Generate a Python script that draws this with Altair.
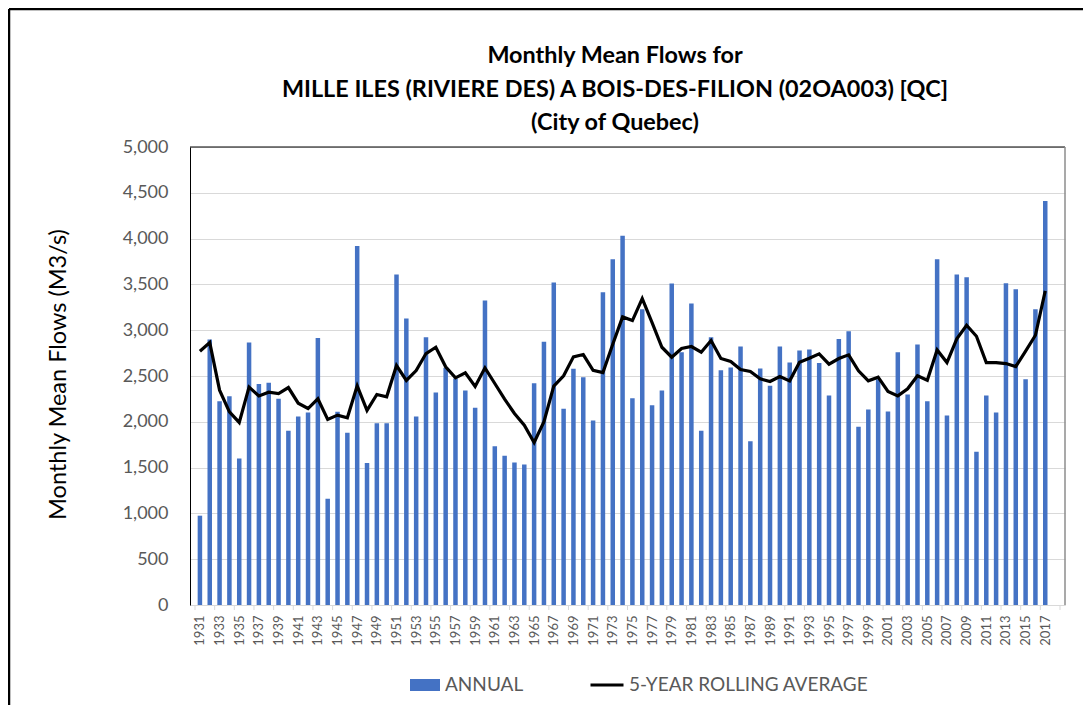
import altair as alt
import pandas as pd

years = list(range(1931, 2018))
annual = [975, 2898, 2225, 2280, 1600, 2865, 2414, 2425, 2251, 1902,
          2058, 2102, 2916, 1160, 2109, 1880, 3920, 1549, 1985, 1985,
          3607, 3127, 2058, 2923, 2320, 2589, 2473, 2342, 2153, 3323,
          1734, 1629, 1556, 1534, 2422, 2873, 3520, 2142, 2578, 2487,
          2014, 3414, 3774, 4032, 2258, 3229, 2182, 2342, 3509, 2760,
          3291, 1902, 2923, 2563, 2593, 2822, 1789, 2582, 2393,
          2822, 2647, 2778, 2789, 2643, 2287, 2905, 2989, 1945, 2134,
          2465, 2113, 2760, 2298, 2843, 2225, 3774, 2069, 3607, 3578,
          1673, 2287, 2102, 3512, 3447, 2465, 3229, 4411]
rolling = [2771, 2865, 2345, 2109, 1993, 2378, 2283, 2323, 2309, 2374,
           2203, 2145, 2251, 2025, 2073, 2044, 2393, 2124, 2298, 2273,
           2614, 2451, 2560, 2745, 2814, 2600, 2480, 2534, 2385, 2589,
           2418, 2247, 2091, 1963, 1774, 2000, 2389, 2502, 2709, 2734,
           2563, 2538, 2847, 3145, 3105, 3345, 3083, 2814, 2705, 2800,
           2822, 2760, 2887, 2691, 2658, 2571, 2549, 2469, 2440,
           2494, 2447, 2651, 2694, 2742, 2629, 2691, 2731, 2556, 2447,
           2487, 2331, 2283, 2360, 2502, 2454, 2785, 2647, 2905, 3054,
           2934, 2647, 2647, 2636, 2603, 2771, 2945, 3429]
y_ticks = list(range(0, 5001, 500))
x_label_years = [y for y in years if y % 2 == 1]
title_lines = ["Monthly Mean Flows for",
               "MILLE ILES (RIVIERE DES) A BOIS-DES-FILION (02OA003) [QC]",
               "(City of Quebec)"]

df = pd.DataFrame({"year": years, "annual": annual, "rolling": rolling})
ticks_df = pd.DataFrame({"edge": [y - 0.5 for y in x_label_years] + [years[-1] + 1.5]})
one = pd.DataFrame({"k": [0]})

W, H = 875, 458
FONT = "Lato"
GRAY = "#595959"

xs = alt.Scale(domain=[years[0] - 0.5, years[-1] + 1.5], nice=False, zero=False)
ys = alt.Scale(domain=[0, 5000], nice=False)

xaxis = alt.Axis(values=x_label_years, format="d", labelAngle=270, labelFont=FONT,
                 labelFontSize=13, labelColor=GRAY, ticks=False, domainColor="#D9D9D9",
                 domainWidth=1, grid=False, title=None, labelPadding=10,
                 labelOverlap=False)
yaxis = alt.Axis(values=y_ticks, format=",d", labelFont=FONT, labelFontSize=18,
                 labelColor=GRAY, labelPadding=22, ticks=False, domainColor="black",
                 domainWidth=1, gridColor="#D9D9D9", gridWidth=1,
                 title="Monthly Mean Flows (M3/s)", titleFont=FONT, titleFontSize=23.5,
                 titleFontWeight="normal", titleColor="black", titleX=-132, titleY=227,
                 titleAngle=270, titleAlign="center", titleBaseline="middle")

bars = alt.Chart(df).transform_calculate(series="'ANNUAL'").mark_bar(size=4.5).encode(
    x=alt.X("year:Q", scale=xs, axis=xaxis),
    y=alt.Y("annual:Q", scale=ys, axis=yaxis),
    color=alt.Color("series:N", scale=alt.Scale(range=["#4472C4"]),
                    legend=alt.Legend(orient="none", legendX=220, legendY=523, title=None,
                                      direction="horizontal", symbolType="M-1,-0.4H1V0.4H-1Z",
                                      symbolSize=900, symbolStrokeWidth=0, padding=0,
                                      labelFont=FONT, labelFontSize=19, labelColor=GRAY,
                                      labelOffset=5, labelLimit=400)),
)

line = alt.Chart(df).transform_calculate(series="'5-YEAR ROLLING AVERAGE'").mark_line(
    strokeWidth=3.2).encode(
    x=alt.X("year:Q", scale=xs, axis=xaxis),
    y=alt.Y("rolling:Q", scale=ys, axis=yaxis),
    stroke=alt.Stroke("series:N", scale=alt.Scale(range=["#000000"]),
                      legend=alt.Legend(orient="none", legendX=399, legendY=520, title=None,
                                        direction="horizontal", symbolType="stroke",
                                        symbolSize=1089, symbolStrokeWidth=3, padding=0,
                                        labelFont=FONT, labelFontSize=19, labelColor=GRAY,
                                        labelOffset=4, labelLimit=400)),
)

ticks = alt.Chart(ticks_df).mark_rule(color="#D9D9D9").encode(
    x=alt.X("edge:Q", scale=xs, axis=xaxis),
    y=alt.value(H), y2=alt.value(H + 5))

top_border = alt.Chart(one).mark_rule(color="black", strokeWidth=1).encode(
    x=alt.value(0), x2=alt.value(W), y=alt.value(0))
right_border = alt.Chart(one).mark_rule(color="#8C8C8C", strokeWidth=1.5).encode(
    x=alt.value(W), y=alt.value(0), y2=alt.value(H))
frame_left = alt.Chart(one).mark_rule(color="black", strokeWidth=2.5).encode(
    x=alt.value(-181), y=alt.value(-138), y2=alt.value(560))
frame_top = alt.Chart(one).mark_rule(color="black", strokeWidth=2.5).encode(
    x=alt.value(-181), x2=alt.value(W + 30), y=alt.value(-138))


def title_line(text, y):
    return alt.Chart(one).mark_text(font=FONT, fontSize=23.4, fontWeight="bold",
                                    color="black", align="center", baseline="alphabetic",
                                    text=text).encode(x=alt.value(425), y=alt.value(y))


t1 = title_line(title_lines[0], -84)
t2 = title_line(title_lines[1], -50.5)
t3 = title_line(title_lines[2], -17)

chart = alt.layer(bars, line, ticks, top_border, right_border, frame_left, frame_top,
                  t1, t2, t3).properties(
    width=W, height=H,
    padding={"left": 182, "top": 139, "right": 18, "bottom": 100},
    autosize=alt.AutoSizeParams(type="none"),
    background="white",
).resolve_scale(color="independent").configure_view(stroke=None)

chart.save("out.html", embed_options={"renderer": "svg", "actions": False})
